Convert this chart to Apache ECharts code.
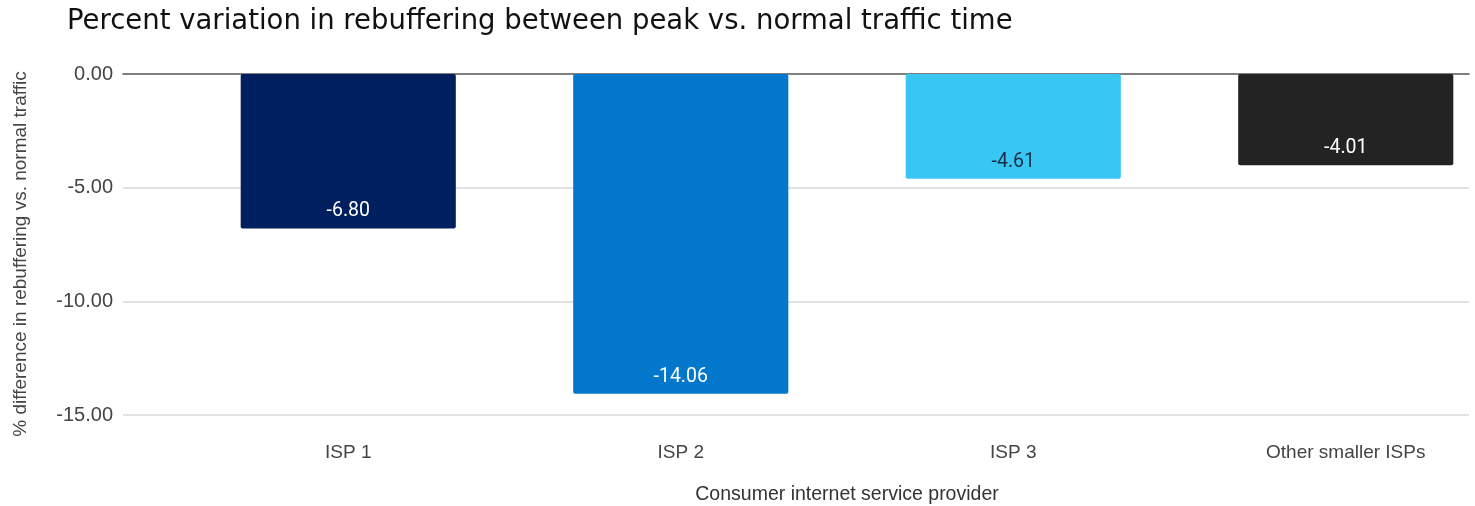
<!DOCTYPE html>
<html>
<head>
<meta charset="utf-8">
<script src="https://cdn.jsdelivr.net/npm/echarts@6/dist/echarts.min.js"></script>
<style>
html,body{margin:0;padding:0;background:#fff;}
#chart{width:1475px;height:506px;}
</style>
</head>
<body>
<div id="chart"></div>
<script>
const titleText = 'Percent variation in rebuffering between peak vs. normal traffic time';
const categories = ['ISP 1', 'ISP 2', 'ISP 3', 'Other smaller ISPs'];
const values = [-6.80, -14.06, -4.61, -4.01];
const barColors = ['#001f5f', '#0277cb', '#38c6f3', '#232323'];
const labelColors = ['#ffffff', '#ffffff', '#1b2b48', '#ffffff'];
const yTitle = '% difference in rebuffering vs. normal traffic';
const xTitle = 'Consumer internet service provider';

const chart = echarts.init(document.getElementById('chart'), null, {renderer: 'canvas'});
const TOP = 74, BOTTOM = 506 - 415;
chart.setOption({
  animation: false,
  backgroundColor: '#ffffff',
  title: {
    text: titleText,
    left: 62, top: 3,
    textStyle: {fontFamily: 'DejaVu Sans', fontSize: 27.5, fontWeight: 'normal', color: '#111'}
  },
  graphic: [{
    type: 'text',
    rotation: Math.PI / 2,
    x: 21, y: 254,
    style: {
      text: yTitle,
      fontFamily: 'Liberation Sans',
      fontSize: 19,
      fill: '#444',
      align: 'center',
      verticalAlign: 'middle'
    }
  }],
  grid: [
    {left: 123, right: 6, top: TOP, bottom: BOTTOM, outerBoundsMode: 'none', containLabel: false},
    {left: 182, width: 1330, top: TOP, bottom: BOTTOM, outerBoundsMode: 'none', containLabel: false}
  ],
  xAxis: [
    {
      type: 'value', gridIndex: 0, position: 'top', min: 0, max: 1,
      axisLine: {show: true, onZero: false, lineStyle: {color: '#555', width: 1.5}},
      axisTick: {show: false}, axisLabel: {show: false}, splitLine: {show: false}
    },
    {
      type: 'category', gridIndex: 1, data: categories, position: 'bottom',
      axisLine: {show: false}, axisTick: {show: false},
      axisLabel: {margin: 28, fontFamily: 'Liberation Sans', fontSize: 19, color: '#444'},
      name: xTitle, nameLocation: 'middle', nameGap: 70,
      nameTextStyle: {fontFamily: 'Liberation Sans', fontSize: 19.5, color: '#333'}
    }
  ],
  yAxis: [
    {
      type: 'value', gridIndex: 0, min: -15, max: 0, interval: 5,
      axisLine: {show: false}, axisTick: {show: false},
      axisLabel: {margin: 10, fontFamily: 'Liberation Sans', fontSize: 20, color: '#444',
        formatter: v => v.toFixed(2)},
      splitLine: {show: true, lineStyle: {color: ['#d9d9d9', '#d9d9d9', '#d9d9d9', 'rgba(0,0,0,0)'], width: 1.5}}
    },
    {
      type: 'value', gridIndex: 1, min: -15, max: 0, interval: 5,
      show: false, splitLine: {show: false}
    }
  ],
  series: [{
    type: 'bar',
    xAxisIndex: 1, yAxisIndex: 1,
    barWidth: '64.7%',
    data: values.map((v, i) => ({
      value: v,
      itemStyle: {color: barColors[i], borderRadius: 2},
      label: {color: labelColors[i]}
    })),
    label: {
      show: true,
      position: 'insideBottom',
      distance: 7,
      fontFamily: 'Roboto',
      fontSize: 19.5,
      formatter: p => p.value.toFixed(2)
    }
  }]
});
</script>
</body>
</html>
